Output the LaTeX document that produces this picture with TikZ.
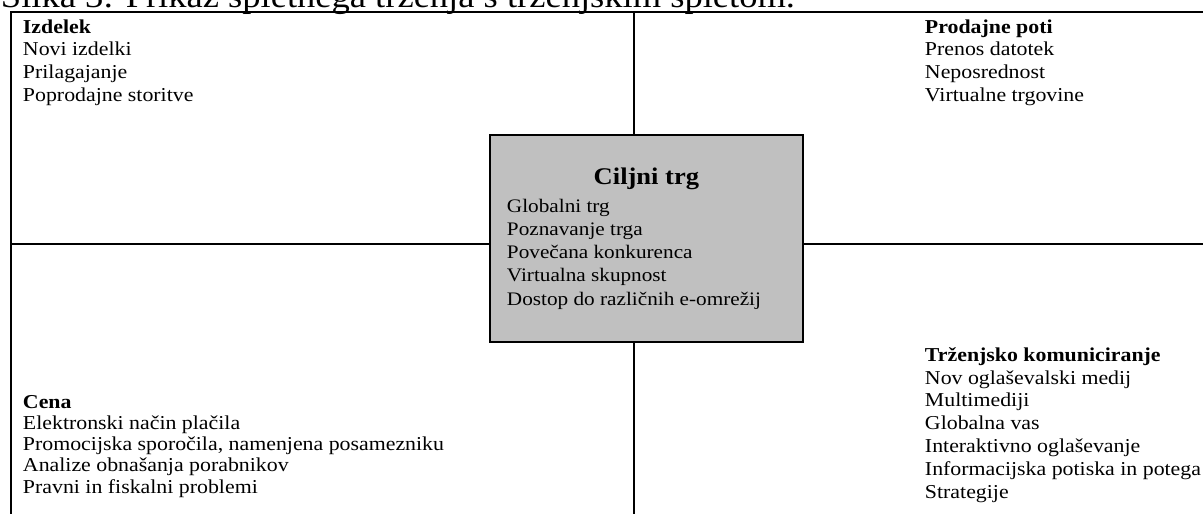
\documentclass[tikz,border=0pt]{standalone}
\usepackage{fontspec}
\setmainfont{Liberation Serif}[FakeStretch=1.11]
\definecolor{boxgray}{RGB}{192,192,192}

\tikzset{
  txt/.style={anchor=base west, align=left, inner sep=0pt,
    font=\fontsize{14}{16.2}\selectfont},
}

\begin{document}
\begin{tikzpicture}[line width=1.4pt]
    \useasboundingbox (0,0) rectangle (30.075,-12.85);
    % naslov
    \node (title) [anchor=base west, inner sep=0pt, font=\fontsize{23.4}{26}\selectfont] at (0,-0.2)
        {Slika 3: Prikaz spletnega trženja s trženjskim spletom.};
    % okvir
    \coordinate (tl) at (0.275,-0.3);
    \coordinate (tr) at (30.4,-0.3);
    \coordinate (bl) at (0.275,-13.1);
    \draw (bl) -- (tl) -- (tr);
    % srednji pravokotnik
    \node (box) [draw, fill=boxgray, minimum width=7.825cm, minimum height=5.175cm] at (16.1625,-5.9625) {};
    \node (head) [anchor=base, inner sep=0pt, font=\fontsize{17}{20}\selectfont\bfseries] at (16.16,-4.625) {Ciljni trg};
    \node (trg) [txt, font=\fontsize{13.6}{16.4}\selectfont] at (12.65,-7.625)
        {Globalni trg\\ Poznavanje trga\\ Povečana konkurenca\\ Virtualna skupnost\\ Dostop do različnih e-omrežij};
    % kriz
    \coordinate (n) at (15.85,-0.3);
    \coordinate (s) at (15.85,-13.1);
    \coordinate (w) at (0.275,-6.1);
    \coordinate (e) at (30.4,-6.1);
    \draw (n) -- (n |- box.north);
    \draw (s) -- (s |- box.south);
    \draw (w) -- (w -| box.west);
    \draw (e) -- (e -| box.east);
    % stirje kvadranti (sidro je osnovnica zadnje vrstice)
    \begin{scope}[every node/.style={txt}]
        \node (izd) at (0.55,-2.535)
            {\textbf{Izdelek}\\ Novi izdelki\\ Prilagajanje\\ Poprodajne storitve};
        \node (poti) at (23.1,-2.535)
            {\textbf{Prodajne poti}\\ Prenos datotek\\ Neposrednost\\ Virtualne trgovine};
        \node (cena) [font=\fontsize{14}{15.1}\selectfont] at (0.55,-12.325)
            {\textbf{Cena}\\ Elektronski način plačila\\ Promocijska sporočila, namenjena posamezniku\\ Analize obnašanja porabnikov\\ Pravni in fiskalni problemi};
        \node (kom) at (23.1,-12.45)
            {\textbf{Trženjsko komuniciranje}\\ Nov oglaševalski medij\\ Multimediji\\ Globalna vas\\ Interaktivno oglaševanje\\ Informacijska potiska in potega\\ Strategije};
    \end{scope}
\end{tikzpicture}
\end{document}
